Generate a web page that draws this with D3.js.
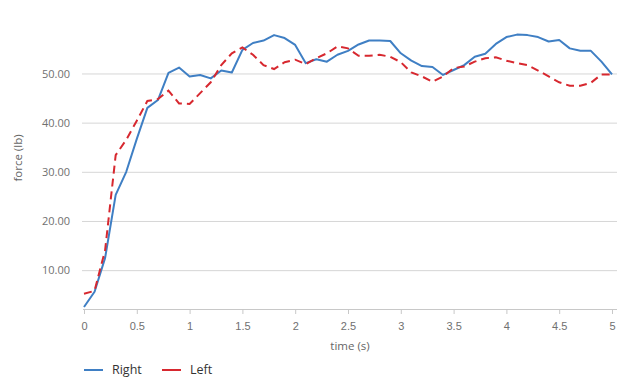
<!DOCTYPE html>
<html><head><meta charset="utf-8">
<script src="https://cdn.jsdelivr.net/npm/d3@7"></script>
<style>
body{margin:0;background:#fff;}
svg{display:block;font-family:"Open Sans","Noto Sans",sans-serif;}
</style></head>
<body><svg id="c" width="617" height="377"></svg>
<script>
const times = d3.range(0, 51).map(i => +(i/10).toFixed(1));
const rightForce = [2.6,5.7,12.6,25.4,30.1,36.8,43.1,44.7,50.2,51.3,49.5,49.8,49.1,50.7,50.3,54.9,56.3,56.8,57.9,57.3,55.9,52.2,53.0,52.5,53.9,54.7,56.0,56.8,56.8,56.7,54.2,52.7,51.6,51.4,49.8,50.8,51.8,53.5,54.1,56.1,57.5,58.0,57.9,57.5,56.6,56.9,55.2,54.7,54.7,52.5,49.9];
const leftForce = [5.3,5.9,14.2,33.5,36.6,40.5,44.5,44.9,46.6,44.0,43.9,46.1,48.3,51.8,54.2,55.4,53.9,51.8,51.0,52.4,52.9,52.0,53.2,54.2,55.6,55.2,53.7,53.7,53.9,53.5,52.4,50.3,49.5,48.4,49.5,51.2,51.5,52.5,53.2,53.4,52.7,52.2,51.8,50.7,49.5,48.3,47.6,47.6,48.2,49.9,49.9];
const xTicks = [0,0.5,1,1.5,2,2.5,3,3.5,4,4.5,5];
const yTicks = [10,20,30,40,50];
const seriesNames = ["Right","Left"];
const seriesColors = ["#3f7fc4","#d7282f"];

const svg = d3.select("#c");
const x = d3.scaleLinear().domain([0,5]).range([84,612]);
const y = d3.scaleLinear().domain([2.2,59]).range([309,29.7]);

// gridlines
svg.append("g").selectAll("line").data(yTicks).join("line")
  .attr("x1",82).attr("x2",617).attr("y1",d=>y(d)).attr("y2",d=>y(d))
  .attr("stroke","#d6d6d6").attr("stroke-width",1);

// y labels
svg.append("g").selectAll("text").data(yTicks).join("text")
  .attr("x",70).attr("y",d=>y(d)).attr("dy","0.35em").attr("text-anchor","end")
  .attr("font-size",11).attr("fill","#707070").text(d=>d3.format(".2f")(d));

// x axis
const xa = svg.append("g").attr("transform","translate(0,309)")
  .call(d3.axisBottom(x).tickValues(xTicks).tickSize(5).tickPadding(8).tickFormat(d=>String(d)));
xa.select(".domain").attr("stroke","#c8c8c8").attr("d","M83,0.5H617");
xa.selectAll(".tick line").attr("stroke","#c8c8c8");
xa.selectAll(".tick text").attr("font-size",11).attr("fill","#707070").attr("font-family","inherit");

// titles
svg.append("text").attr("x",350).attr("y",350).attr("text-anchor","middle")
  .attr("font-size",11.5).attr("fill","#666").text("time (s)");
svg.append("text").attr("transform","translate(22,158) rotate(-90)").attr("text-anchor","middle")
  .attr("font-size",11.5).attr("fill","#666").text("force (lb)");

// lines
const line = d3.line().x((d,i)=>x(times[i])).y(d=>y(d));
svg.append("path").datum(rightForce).attr("d",line).attr("fill","none")
  .attr("stroke",seriesColors[0]).attr("stroke-width",2).attr("stroke-linejoin","round");
svg.append("path").datum(leftForce).attr("d",line).attr("fill","none")
  .attr("stroke",seriesColors[1]).attr("stroke-width",2).attr("stroke-dasharray","8,5");

// legend
const legX = [84,162];
const lg = svg.append("g").selectAll("g").data(seriesNames).join("g")
  .attr("transform",(d,i)=>`translate(${legX[i]},370)`);
lg.append("line").attr("x1",0).attr("x2",19).attr("y1",0).attr("y2",0)
  .attr("stroke",(d,i)=>seriesColors[i]).attr("stroke-width",2);
lg.append("text").attr("x",28).attr("dy","0.35em").attr("font-size",12.5).attr("fill","#333").text(d=>d);
</script></body></html>
